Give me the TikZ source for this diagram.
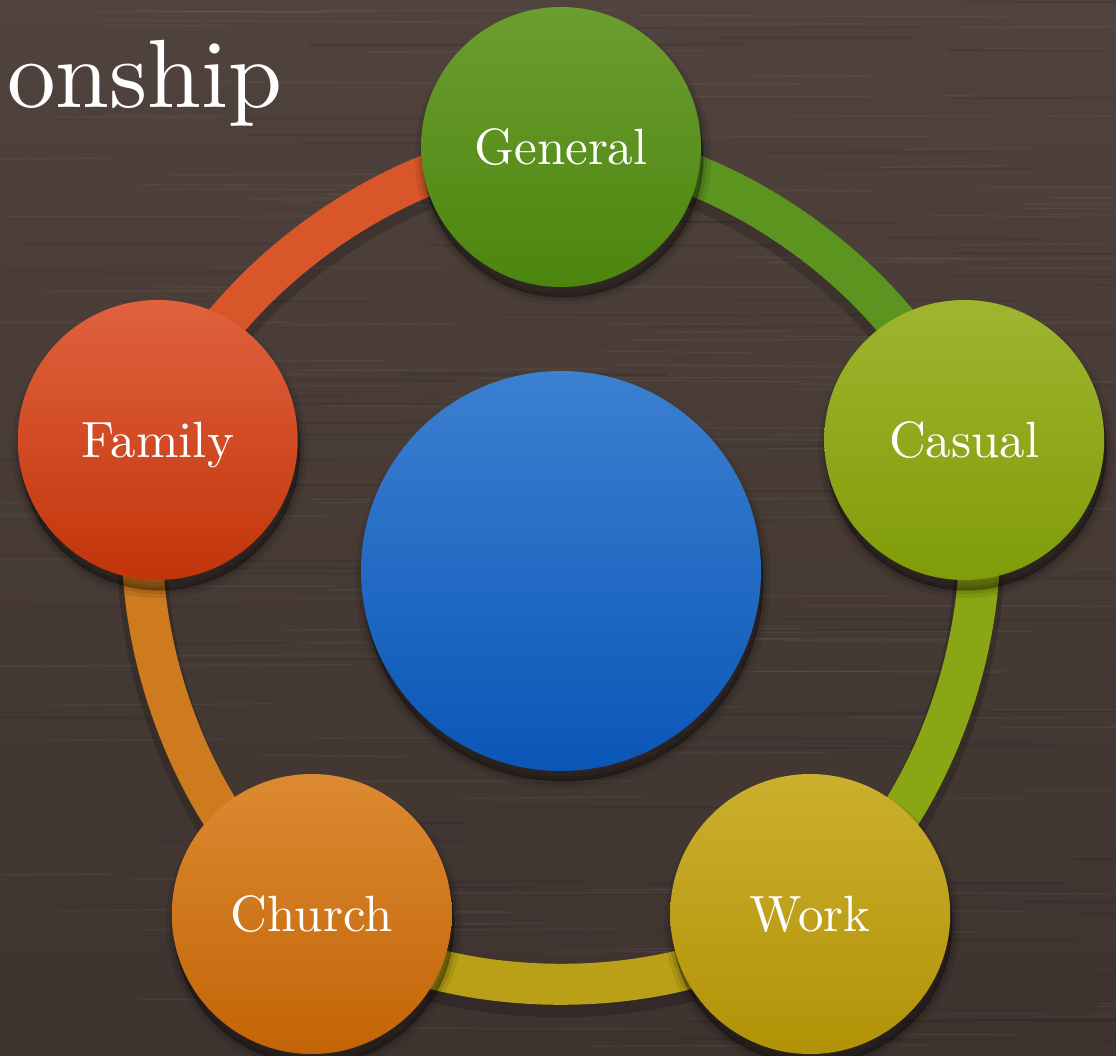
\documentclass[tikz,border=0pt]{standalone}
\usepackage{fontspec}
\setmainfont{lmroman10-regular}[Extension=.otf]

\definecolor{woodtop}{RGB}{80,66,60}
\definecolor{woodbot}{RGB}{62,51,47}
\definecolor{generaltop}{RGB}{108,157,48}
\definecolor{generalbot}{RGB}{76,134,14}
\definecolor{casualtop}{RGB}{160,180,48}
\definecolor{casualbot}{RGB}{128,156,8}
\definecolor{worktop}{RGB}{203,175,46}
\definecolor{workbot}{RGB}{178,146,6}
\definecolor{churchtop}{RGB}{220,138,50}
\definecolor{churchbot}{RGB}{194,100,6}
\definecolor{familytop}{RGB}{224,98,62}
\definecolor{familybot}{RGB}{194,52,10}
\definecolor{centertop}{RGB}{60,128,208}
\definecolor{centerbot}{RGB}{10,86,184}
\definecolor{ringgeneral}{RGB}{92,148,32}
\definecolor{ringcasual}{RGB}{138,166,20}
\definecolor{ringwork}{RGB}{186,160,22}
\definecolor{ringchurch}{RGB}{206,122,30}
\definecolor{ringfamily}{RGB}{216,86,42}

\pgfdeclarelayer{wood}
\pgfdeclarelayer{ring}
\pgfsetlayers{wood,ring,main}

\tikzset{
  softshadow/.style={
    preaction={fill=black, draw=black, line width=16pt, opacity=0.08, transform canvas={shift={(2pt,-10pt)}}},
    preaction={fill=black, draw=black, line width=8pt, opacity=0.10, transform canvas={shift={(2pt,-10pt)}}},
    preaction={fill=black, draw=black, line width=2pt, opacity=0.16, transform canvas={shift={(2pt,-10pt)}}}},
  topic/.style={circle, minimum size=280pt, inner sep=0pt, text=white,
    font=\fontsize{51}{60}\selectfont, text height=35pt, text depth=0pt,
    shading=axis, shading angle=15, softshadow},
  ringpart/.style={line width=41pt, bend left=36, looseness=0.82},
  ringshadow/.style={line width=50pt, black, opacity=0.18, bend left=36, looseness=0.82,
    transform canvas={yshift=-8pt}},
  grain/.style={line width=1.2pt, white, opacity=0.05},
  darkgrain/.style={line width=2pt, black, opacity=0.08},
}

\begin{document}
\begin{tikzpicture}[x=1pt, y=1pt]
\useasboundingbox (-561,-484) rectangle (555,571);

% wood background
\begin{pgfonlayer}{wood}
\shade[top color=woodtop, bottom color=woodbot] (-561,-484) rectangle (555,571);
\pgfmathsetseed{11}
\foreach \i in {1,...,150} {
  \pgfmathsetmacro\gx{rand*600}
  \pgfmathsetmacro\gy{rand*528+43}
  \pgfmathsetmacro\gl{120+rnd*260}
  \draw[grain] (\gx,\gy) -- ++(\gl,rand*2);
}
\foreach \i in {1,...,90} {
  \pgfmathsetmacro\gx{rand*600}
  \pgfmathsetmacro\gy{rand*528+43}
  \pgfmathsetmacro\gl{150+rnd*300}
  \draw[darkgrain] (\gx,\gy) -- ++(\gl,rand*2);
}
\end{pgfonlayer}

\node[anchor=base west, inner sep=0pt, text=white, font=\fontsize{97}{110}\selectfont] (title) at (-554,463) {onship};

% center
\node[circle, minimum size=400pt, inner sep=0pt, shading=axis, shading angle=15,
  top color=centertop, bottom color=centerbot, softshadow] (node_center) at (0,0) {};

% topics
\node[topic, top color=generaltop, bottom color=generalbot] (node_general) at (90:424) {General};
\node[topic, top color=casualtop, bottom color=casualbot] (node_casual) at (18:424) {Casual};
\node[topic, top color=worktop, bottom color=workbot] (node_work) at (-54:424) {Work};
\node[topic, top color=churchtop, bottom color=churchbot] (node_church) at (-126:424) {Church};
\node[topic, top color=familytop, bottom color=familybot] (node_family) at (162:424) {Family};

% ring
\begin{pgfonlayer}{ring}
\draw[ringshadow] (node_general.center) to (node_casual.center);
\draw[ringshadow] (node_casual.center) to (node_work.center);
\draw[ringshadow] (node_work.center) to (node_church.center);
\draw[ringshadow] (node_church.center) to (node_family.center);
\draw[ringshadow] (node_family.center) to (node_general.center);
\draw[ringpart, ringgeneral] (node_general.center) to (node_casual.center);
\draw[ringpart, ringcasual] (node_casual.center) to (node_work.center);
\draw[ringpart, ringwork] (node_work.center) to (node_church.center);
\draw[ringpart, ringchurch] (node_church.center) to (node_family.center);
\draw[ringpart, ringfamily] (node_family.center) to (node_general.center);
\end{pgfonlayer}
\end{tikzpicture}
\end{document}
